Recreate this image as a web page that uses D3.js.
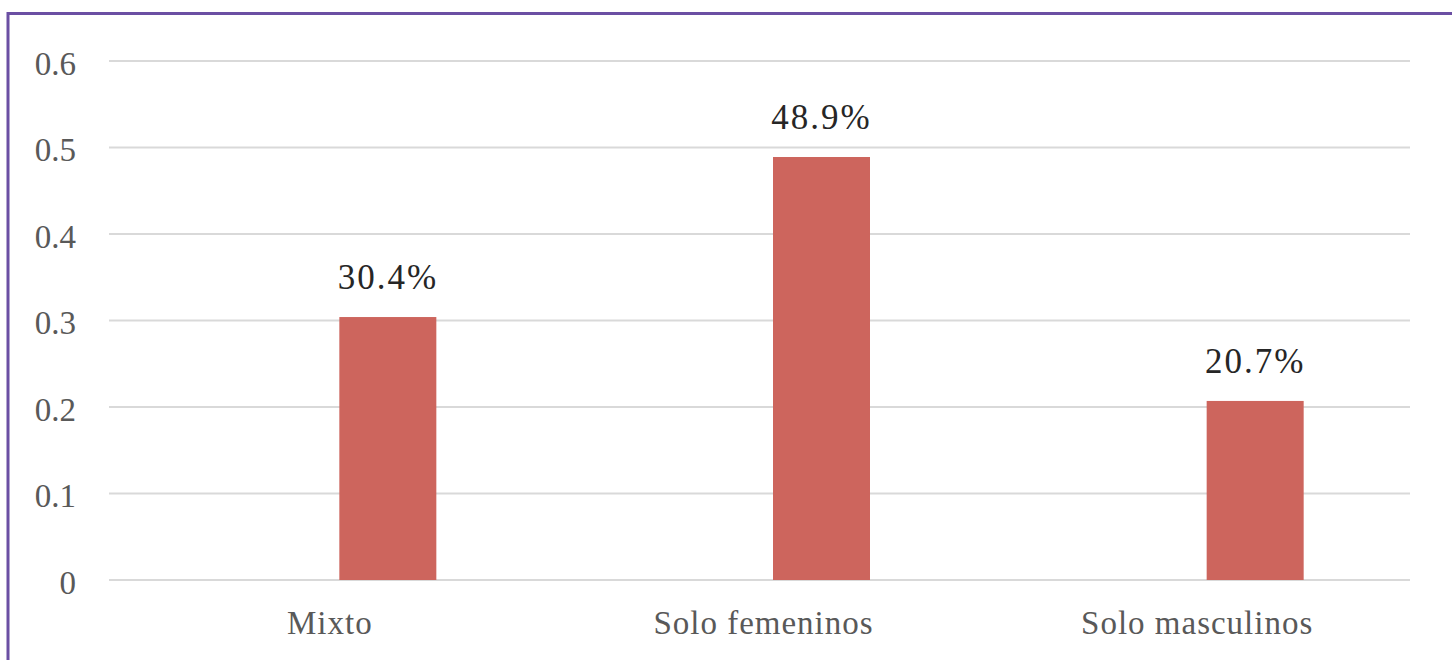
<!DOCTYPE html>
<html><head><meta charset="utf-8">
<script src="https://cdn.jsdelivr.net/npm/d3@7"></script>
<style>body{margin:0;background:#fff;}svg{display:block;}</style>
</head><body>
<svg id="c" width="1452" height="660"></svg>
<script>
const categories = ["Mixto", "Solo femeninos", "Solo masculinos"];
const values = [0.304, 0.489, 0.207];
const valueLabels = ["30.4%", "48.9%", "20.7%"];
const yTicks = [0, 0.1, 0.2, 0.3, 0.4, 0.5, 0.6];

const svg = d3.select("#c");
const W = 1452, H = 660;
const m = {left: 109, right: 42, top: 61, bottom: 80};
const font = "'Liberation Serif', 'DejaVu Serif', serif";

// border
svg.append("path")
  .attr("d", `M8,${H} L8,13.5 L${W},13.5`)
  .attr("fill", "none").attr("stroke", "#6b4fa3").attr("stroke-width", 3);

const x = d3.scaleBand().domain(categories).range([m.left, W - m.right]);
const y = d3.scaleLinear().domain([0, 0.6]).range([H - m.bottom, m.top]);

// gridlines
svg.append("g").selectAll("line").data(yTicks).join("line")
  .attr("x1", m.left).attr("x2", W - m.right)
  .attr("y1", d => y(d)).attr("y2", d => y(d))
  .attr("stroke", "#d9d9d9").attr("stroke-width", 2);

// y axis labels
const yAxis = d3.axisLeft(y).tickValues(yTicks).tickSize(0).tickPadding(33)
  .tickFormat(d => d === 0 ? "0" : d3.format(".1f")(d));
const ga = svg.append("g").attr("transform", `translate(${m.left},0)`).call(yAxis);
ga.select(".domain").remove();
ga.selectAll("text").attr("font-family", font).attr("font-size", 33).attr("fill", "#595959").attr("dy", "0.4em");

// x axis labels
const xAxis = d3.axisBottom(x).tickSize(0).tickPadding(31);
const gx = svg.append("g").attr("transform", `translate(4,${H - m.bottom})`).call(xAxis);
gx.select(".domain").remove();
gx.selectAll("text").attr("font-family", font).attr("font-size", 33).attr("fill", "#595959")
  .attr("letter-spacing", "1px");

// bars (offset within band like Excel clustered slot)
const barW = 97;
const off = 62;
const bx = d => x(d) + x.bandwidth() / 2 + off - barW / 2;
svg.append("g").selectAll("rect").data(values).join("rect")
  .attr("x", (d, i) => bx(categories[i]))
  .attr("y", d => y(d))
  .attr("width", barW)
  .attr("height", d => y(0) - y(d))
  .attr("fill", "#cd655d");

svg.append("g").selectAll("text").data(values).join("text")
  .attr("x", (d, i) => bx(categories[i]) + barW / 2)
  .attr("y", d => y(d) - 28)
  .attr("text-anchor", "middle")
  .attr("font-family", font).attr("font-size", 35).attr("fill", "#262626")
  .attr("letter-spacing", "2px")
  .text((d, i) => valueLabels[i]);
</script>
</body></html>
